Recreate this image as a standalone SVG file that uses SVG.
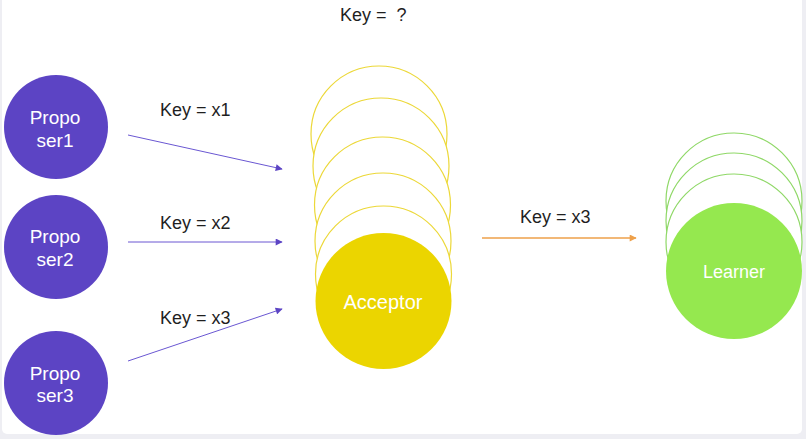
<svg xmlns="http://www.w3.org/2000/svg" width="806" height="439" viewBox="0 0 806 439">
<style>
.lbl{font-family:"Liberation Sans",Arial,sans-serif;font-size:18px;fill:#1f1f1f}
.wt{font-family:"Liberation Sans",Arial,sans-serif;font-size:19px;fill:#ffffff;text-anchor:middle}
.prop{fill:#5c44c4}
.acc{fill:#ffffff;stroke:#ecd838;stroke-width:1.2}
.lrn{fill:#ffffff;stroke:#8fd867;stroke-width:1.2}
.pl{stroke:#6a57d2;stroke-width:1;fill:none}
.ol{stroke:#eea04a;stroke-width:1.6;fill:none}
</style>
<defs>
<marker id="ap" viewBox="0 0 10 10" refX="9" refY="5" markerWidth="8" markerHeight="7" markerUnits="userSpaceOnUse" orient="auto"><path d="M0,0 L10,5 L0,10 Z" fill="#5c44c4"/></marker>
<marker id="ao" viewBox="0 0 10 10" refX="9" refY="5" markerWidth="8" markerHeight="7" markerUnits="userSpaceOnUse" orient="auto"><path d="M0,0 L10,5 L0,10 Z" fill="#eea04a"/></marker>
</defs>
<rect x="0" y="0" width="806" height="439" fill="#eeeef3"/>
<rect x="2" y="-6" width="800" height="440" rx="5" fill="#ffffff"/>
<text class="lbl" x="340" y="21" xml:space="preserve">Key =  ?</text>
<g id="proposer1"><circle class="prop" cx="56" cy="127" r="52"/><text class="wt" x="55" y="124">Propo</text><text class="wt" x="55" y="147">ser1</text></g>
<g id="proposer2"><circle class="prop" cx="56" cy="247" r="52"/><text class="wt" x="55" y="243">Propo</text><text class="wt" x="55" y="266">ser2</text></g>
<g id="proposer3"><circle class="prop" cx="56" cy="383" r="52"/><text class="wt" x="55" y="380">Propo</text><text class="wt" x="55" y="402">ser3</text></g>
<g id="acceptor">
<circle class="acc" cx="379" cy="134" r="68"/>
<circle class="acc" cx="381" cy="166" r="68"/>
<circle class="acc" cx="382.5" cy="205" r="68"/>
<circle class="acc" cx="383" cy="241" r="68"/>
<circle class="acc" cx="383.5" cy="274" r="68"/>
<circle cx="383.5" cy="301" r="68" fill="#ebd500"/>
<text class="wt" x="383" y="309" style="font-size:20px">Acceptor</text>
</g>
<g id="learner">
<circle class="lrn" cx="734" cy="201" r="68"/>
<circle class="lrn" cx="734" cy="221" r="68"/>
<circle class="lrn" cx="734" cy="242" r="68"/>
<circle cx="734" cy="271" r="68" fill="#95e84f"/>
<text class="wt" x="734" y="278" style="font-size:18px">Learner</text>
</g>
<g id="connectors">
<line class="pl" x1="128" y1="135" x2="282" y2="169" marker-end="url(#ap)"/>
<line class="pl" x1="128" y1="242" x2="282" y2="242" marker-end="url(#ap)"/>
<line class="pl" x1="128" y1="361" x2="282" y2="309" marker-end="url(#ap)"/>
<line class="ol" x1="482" y1="238" x2="636" y2="238" marker-end="url(#ao)"/>
<text class="lbl" x="160" y="116">Key = x1</text>
<text class="lbl" x="160" y="229">Key = x2</text>
<text class="lbl" x="160" y="324">Key = x3</text>
<text class="lbl" x="520" y="223">Key = x3</text>
</g>
</svg>
